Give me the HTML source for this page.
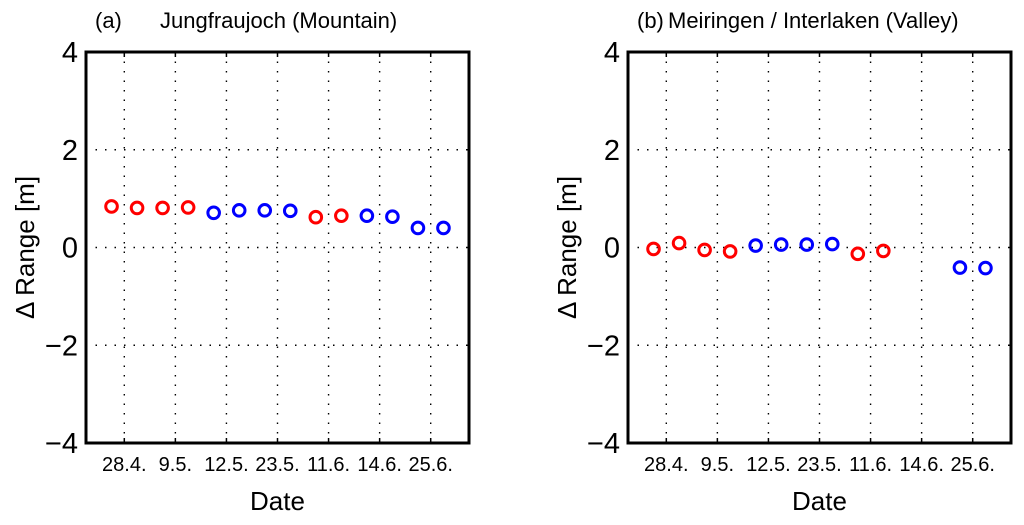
<!DOCTYPE html>
<html><head><meta charset="utf-8"><style>
body{margin:0;background:#fff;}
svg{display:block;font-family:"Liberation Sans",sans-serif;}
</style></head><body>
<svg id="fig" width="1024" height="525" viewBox="0 0 1024 525" xmlns="http://www.w3.org/2000/svg"></svg>
<script>
const tickLabels = ["28.4.","9.5.","12.5.","23.5.","11.6.","14.6.","25.6."];
const tickPositions = [0.5,2.5,4.5,6.5,8.5,10.5,12.5];
const yTicks = [4,2,0,-2,-4];
const yTickLabels = ["4","2","0","\u22122","\u22124"];
const seriesColorsA = ["r","r","r","r","b","b","b","b","r","r","b","b","b","b"];
const indexA = [0,1,2,3,4,5,6,7,8,9,10,11,12,13];
const valuesA = [0.84,0.81,0.81,0.82,0.71,0.76,0.76,0.75,0.62,0.65,0.65,0.63,0.40,0.40];
const seriesColorsB = ["r","r","r","r","b","b","b","b","r","r","b","b"];
const indexB = [0,1,2,3,4,5,6,7,8,9,12,13];
const valuesB = [-0.03,0.09,-0.05,-0.08,0.04,0.06,0.06,0.07,-0.13,-0.07,-0.41,-0.42];

const NS="http://www.w3.org/2000/svg";
const svg=document.getElementById('fig');
function mk(tag,attrs,parent){const e=document.createElementNS(NS,tag);for(const k in attrs)e.setAttribute(k,attrs[k]);(parent||svg).appendChild(e);return e;}

function panel(px0,px1,py0,py1,label,title,titleX,idx,vals,cols,prefix){
  const g=mk('g',{});
  
  
  const xs=v=>px0+(v+1)/15*(px1-px0);
  const ys=v=>py1-(v+4)/8*(py1-py0);
  tickPositions.forEach((t,i)=>{
    const l=mk('line',{x1:xs(t),x2:xs(t),y1:py0,y2:py1,stroke:'#000','stroke-width':1.4,'stroke-dasharray':'1.5,8'},g);
    
    
    const tk=mk('line',{x1:xs(t),x2:xs(t),y1:py1,y2:py1-5,stroke:'#000','stroke-width':1.5},g);
    
    
    const tk2=mk('line',{x1:xs(t),x2:xs(t),y1:py0,y2:py0+5,stroke:'#000','stroke-width':1.5},g);
    
    
    const tx=mk('text',{x:xs(t),y:py1+28,'font-size':20,'text-anchor':'middle'},g);
    tx.textContent=tickLabels[i];
    
    
  });
  yTicks.forEach((t,i)=>{
    if(t!==4&&t!==-4){
      const l=mk('line',{x1:px0,x2:px1,y1:ys(t),y2:ys(t),stroke:'#000','stroke-width':1.4,'stroke-dasharray':'1.5,8'},g);
      
      
    }
    const tx=mk('text',{x:px0-8,y:ys(t)+10,'font-size':29,'text-anchor':'end'},g);
    tx.textContent=yTickLabels[i];
    
    
  });
  const box=mk('rect',{x:px0,y:py0,width:px1-px0,height:py1-py0,fill:'none',stroke:'#000','stroke-width':3},g);
  
  
  idx.forEach((k,i)=>{
    const c=mk('circle',{cx:xs(k),cy:ys(vals[i]),r:5.8,fill:'none',stroke:cols[i]==='r'?'#f00':'#00f','stroke-width':3},g);
    
    
  });
  const yl=mk('text',{x:0,y:0,'font-size':26,'text-anchor':'middle',transform:`translate(${px0-52},${ys(0)}) rotate(-90)`},g);
  yl.textContent='\u0394 Range [m]';
  
  
  const xl=mk('text',{x:(px0+px1)/2,y:510,'font-size':26,'text-anchor':'middle'},g);
  xl.textContent='Date';
  
  
  const pl=mk('text',{x:px0+9,y:28,'font-size':22},g);
  pl.textContent=label;
  
  
  const tt=mk('text',{x:titleX,y:28,'font-size':22},g);
  tt.textContent=title;
  
  
}
panel(86,469,52,443,'(a)','Jungfraujoch (Mountain)',160,indexA,valuesA,seriesColorsA,'panel-a');
panel(628,1011,52,443,'(b)','Meiringen / Interlaken (Valley)',668,indexB,valuesB,seriesColorsB,'panel-b');
</script>
</body></html>
